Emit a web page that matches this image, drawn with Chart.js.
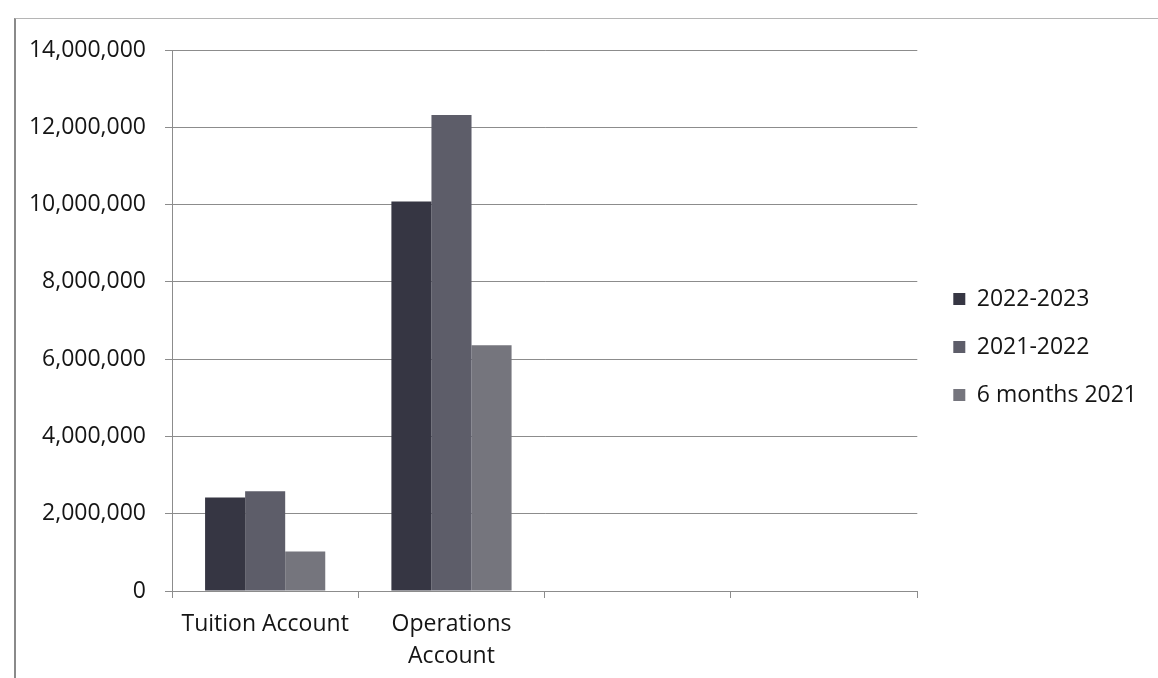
<!DOCTYPE html>
<html>
<head>
<meta charset="utf-8">
<script src="https://cdn.jsdelivr.net/npm/chart.js@4/dist/chart.umd.min.js"></script>
<style>
  html, body { margin: 0; padding: 0; background: #fff; }
  #wrap { position: relative; width: 1158px; height: 678px; overflow: hidden; }
  #frame { position: absolute; left: 14px; top: 18px; width: 1150px; height: 670px;
           border-left: 2px solid #8a8a8a; border-top: 1px solid #b5b5b5; }
  canvas { position: absolute; left: 0; top: 0; }
</style>
</head>
<body>
<div id="wrap">
  <div id="frame"></div>
  <canvas id="myChart" width="1158" height="678"></canvas>
</div>
<script>
// Bar chart data
const categories = ['Tuition Account', ['Operations', 'Account'], '', ''];
const seriesNames = ['2022-2023', '2021-2022', '6 months 2021'];
const values2022 = [2420000, 10080000, null, null];
const values2021 = [2580000, 12320000, null, null];
const values6m = [1020000, 6360000, null, null];
const yTicks = [0, 2000000, 4000000, 6000000, 8000000, 10000000, 12000000, 14000000];

const barColors = ['#363643', '#5d5d69', '#75757d'];
const gridColor = '#8c8c8c';

Chart.defaults.font.family = "'Open Sans', sans-serif";
Chart.defaults.font.size = 23;
Chart.defaults.color = '#151515';

// nudge the legend a bit right of the plot and centre it like the original
const placeLegend = {
  id: 'placeLegend',
  afterLayout(chart) {
    const lg = chart.legend;
    lg.left += 11;
    lg.right += 11;
    lg.bottom = 644;
  }
};

const ctx = document.getElementById('myChart');

new Chart(ctx, {
  type: 'bar',
  data: {
    labels: categories,
    datasets: [
      { label: seriesNames[0], data: values2022, backgroundColor: barColors[0], borderWidth: 0 },
      { label: seriesNames[1], data: values2021, backgroundColor: barColors[1], borderWidth: 0 },
      { label: seriesNames[2], data: values6m, backgroundColor: barColors[2], borderWidth: 0 }
    ]
  },
  options: {
    responsive: false,
    animation: false,
    events: [],
    barPercentage: 1,
    categoryPercentage: 0.645,
    layout: { padding: { top: 50, bottom: 0, left: 0, right: 22 } },
    plugins: {
      tooltip: { enabled: false },
      legend: {
        position: 'right',
        labels: {
          boxWidth: 12,
          boxHeight: 12,
          padding: 25,
          font: { size: 23 }
        }
      }
    },
    scales: {
      x: {
        afterFit: (scale) => { scale.height = 87; },
        grid: { drawOnChartArea: false, drawTicks: true, tickLength: 7, color: gridColor, offset: true },
        border: { display: true, color: gridColor },
        ticks: { padding: 10, maxRotation: 0, autoSkip: false, font: { size: 23, lineHeight: 1.4 } }
      },
      y: {
        min: 0,
        max: 14000000,
        afterFit: (scale) => { scale.width = 172; },
        afterBuildTicks: (scale) => { scale.ticks = yTicks.map(v => ({ value: v })); },
        grid: { color: gridColor, tickLength: 7, drawTicks: true },
        border: { display: true, color: gridColor },
        ticks: {
          padding: 19,
          callback: (v) => Number(v).toLocaleString('en-US')
        }
      }
    }
  },
  plugins: [placeLegend]
});
</script>
</body>
</html>
